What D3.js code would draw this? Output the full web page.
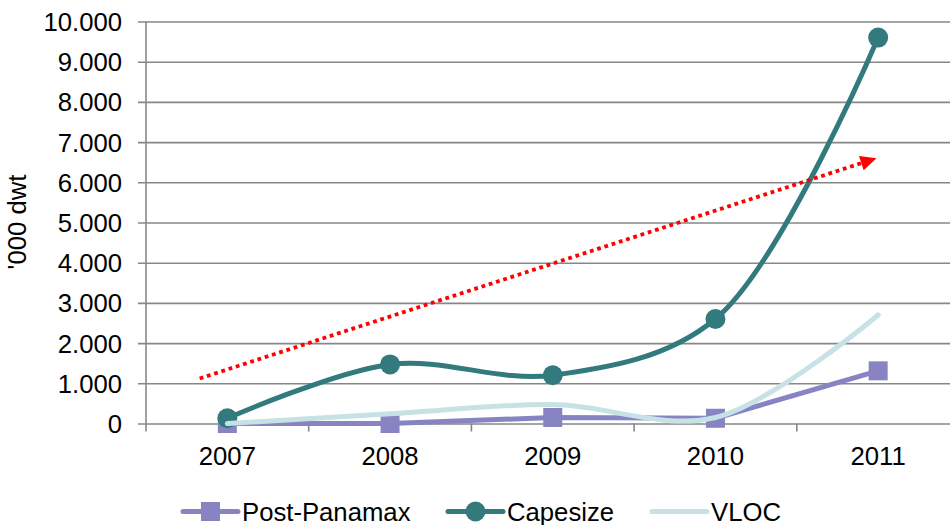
<!DOCTYPE html>
<html>
<head>
<meta charset="utf-8">
<script src="https://cdn.jsdelivr.net/npm/d3@7"></script>
<style>
  html, body { margin: 0; padding: 0; background: #ffffff; }
  svg { display: block; font-family: "Liberation Sans", Arial, sans-serif; }
</style>
</head>
<body>
<svg id="chart" width="950" height="525"></svg>
<script>
// Fleet additions by vessel class, '000 dwt
const years = ["2007", "2008", "2009", "2010", "2011"];
const postPanamax = [0, 0, 150, 130, 1310];
const capesize = [130, 1470, 1200, 2600, 9600];
const vloc = [0, 240, 470, 150, 2700];
const yTickValues = [0, 1000, 2000, 3000, 4000, 5000, 6000, 7000, 8000, 9000, 10000];
const yTitle = "'000 dwt";

// Trend annotation: position in category units (0 = first year centre) and value
const trendPos = [-0.17, 3.99];
const trendVal = [1120, 6600];

const seriesNames = ["Post-Panamax", "Capesize", "VLOC"];
const seriesColors = ["#8884c4", "#327a7d", "#c6e2e5"];
const seriesMarkers = ["square", "circle", "none"];
const seriesSmooth = [false, true, true];
const seriesValues = [postPanamax, capesize, vloc];

const W = 950, H = 525;
const plotLeft = 146, plotRight = 959.5, plotTop = 21.5, plotBottom = 423.5;
const gridColor = "#878787";
const fontSize = 25.7;

const svg = d3.select("#chart");

const x = d3.scaleBand().domain(years).range([plotLeft, plotRight]).padding(0);
const bw = x.bandwidth();
const xc = d => x(d) + bw / 2;
const xi = d3.scaleLinear().domain([0, 1]).range([xc(years[0]), xc(years[1])]);
const y = d3.scaleLinear().domain([0, 10000]).range([plotBottom, plotTop]);

const locale = d3.formatLocale({ decimal: ",", thousands: ".", grouping: [3], currency: ["", ""] });
const fmt = locale.format(",d");

// Horizontal gridlines with short outer ticks
const yAxis = d3.axisLeft(y).tickValues(yTickValues).tickFormat(fmt)
  .tickSizeOuter(0).tickPadding(0);
const gy = svg.append("g").attr("transform", `translate(${plotLeft},0)`).call(yAxis);
gy.select(".domain").remove();
gy.selectAll(".tick line")
  .attr("x1", -8).attr("x2", W - plotLeft + 20)
  .attr("stroke", gridColor).attr("stroke-width", 1.6);
gy.selectAll(".tick text")
  .attr("x", -24).attr("dy", "0.35em")
  .attr("fill", "#000").style("font-size", fontSize + "px")
  .style("font-family", "'Liberation Sans', Arial, sans-serif");

// Vertical axis line
svg.append("line")
  .attr("x1", plotLeft).attr("x2", plotLeft).attr("y1", plotTop).attr("y2", plotBottom + 8)
  .attr("stroke", gridColor).attr("stroke-width", 1.6);

// Category axis: ticks on band boundaries, labels at centres
const xAxis = d3.axisBottom(x).tickSize(0).tickPadding(0);
const gx = svg.append("g").attr("transform", `translate(0,${plotBottom})`).call(xAxis);
gx.select(".domain").remove();
gx.selectAll(".tick text")
  .attr("y", 41.5).attr("dy", 0)
  .attr("fill", "#000").style("font-size", fontSize + "px")
  .style("font-family", "'Liberation Sans', Arial, sans-serif");
svg.append("g").selectAll("line")
  .data(years.slice(1))
  .join("line")
  .attr("x1", d => x(d)).attr("x2", d => x(d))
  .attr("y1", plotBottom).attr("y2", plotBottom + 8)
  .attr("stroke", gridColor).attr("stroke-width", 1.6);

// Y-axis title
svg.append("text")
  .attr("transform", `translate(26,222) rotate(-90)`)
  .attr("text-anchor", "middle")
  .style("font-size", fontSize + "px")
  .attr("fill", "#000")
  .text(yTitle);

// Series
const plot = svg.append("g");
seriesValues.forEach((vals, s) => {
  const pts = vals.map((v, i) => [xc(years[i]), y(v)]);
  const line = d3.line().curve(seriesSmooth[s] ? d3.curveCatmullRom.alpha(0.5) : d3.curveLinear);
  const g = plot.append("g");
  g.append("path")
    .attr("d", line(pts))
    .attr("fill", "none")
    .attr("stroke", seriesColors[s])
    .attr("stroke-width", 5)
    .attr("stroke-linejoin", "round")
    .attr("stroke-linecap", "round");
  if (seriesMarkers[s] === "square") {
    g.selectAll("rect").data(pts).join("rect")
      .attr("x", d => d[0] - 9.5).attr("y", d => d[1] - 9.5)
      .attr("width", 19).attr("height", 19)
      .attr("fill", seriesColors[s]);
  } else if (seriesMarkers[s] === "circle") {
    g.selectAll("circle").data(pts).join("circle")
      .attr("cx", d => d[0]).attr("cy", d => d[1]).attr("r", 10)
      .attr("fill", seriesColors[s]);
  }
});

// Dotted red trend arrow
const p0 = [xi(trendPos[0]), y(trendVal[0])];
const p1 = [xi(trendPos[1]), y(trendVal[1])];
const ang = Math.atan2(p1[1] - p0[1], p1[0] - p0[0]);
const headLen = 16, headW = 15;
const base = [p1[0] - headLen * Math.cos(ang), p1[1] - headLen * Math.sin(ang)];
svg.append("line")
  .attr("x1", p0[0]).attr("y1", p0[1])
  .attr("x2", base[0] + 2 * Math.cos(ang)).attr("y2", base[1] + 2 * Math.sin(ang))
  .attr("stroke", "#ff0000").attr("stroke-width", 3.8)
  .attr("stroke-dasharray", "3.8,3.8");
const nx = -Math.sin(ang), ny = Math.cos(ang);
svg.append("path")
  .attr("d", d3.line()([
    p1,
    [base[0] + nx * headW / 2, base[1] + ny * headW / 2],
    [base[0] - nx * headW / 2, base[1] - ny * headW / 2]
  ]) + "Z")
  .attr("fill", "#ff0000");

// Legend
const legendStarts = [183, 448, 652];
const legendY = 511.5;
const lg = svg.append("g");
seriesNames.forEach((name, s) => {
  const x0 = legendStarts[s];
  const item = lg.append("g");
  item.append("line")
    .attr("x1", x0).attr("x2", x0 + 55)
    .attr("y1", legendY).attr("y2", legendY)
    .attr("stroke", seriesColors[s]).attr("stroke-width", 5)
    .attr("stroke-linecap", "round");
  if (seriesMarkers[s] === "square") {
    item.append("rect").attr("x", x0 + 27.5 - 9.5).attr("y", legendY - 9.5)
      .attr("width", 19).attr("height", 19).attr("fill", seriesColors[s]);
  } else if (seriesMarkers[s] === "circle") {
    item.append("circle").attr("cx", x0 + 27.5).attr("cy", legendY).attr("r", 10)
      .attr("fill", seriesColors[s]);
  }
  item.append("text")
    .attr("x", x0 + 59).attr("y", legendY + 9)
    .style("font-size", fontSize + "px")
    .attr("fill", "#000")
    .text(name);
});
</script>
</body>
</html>
